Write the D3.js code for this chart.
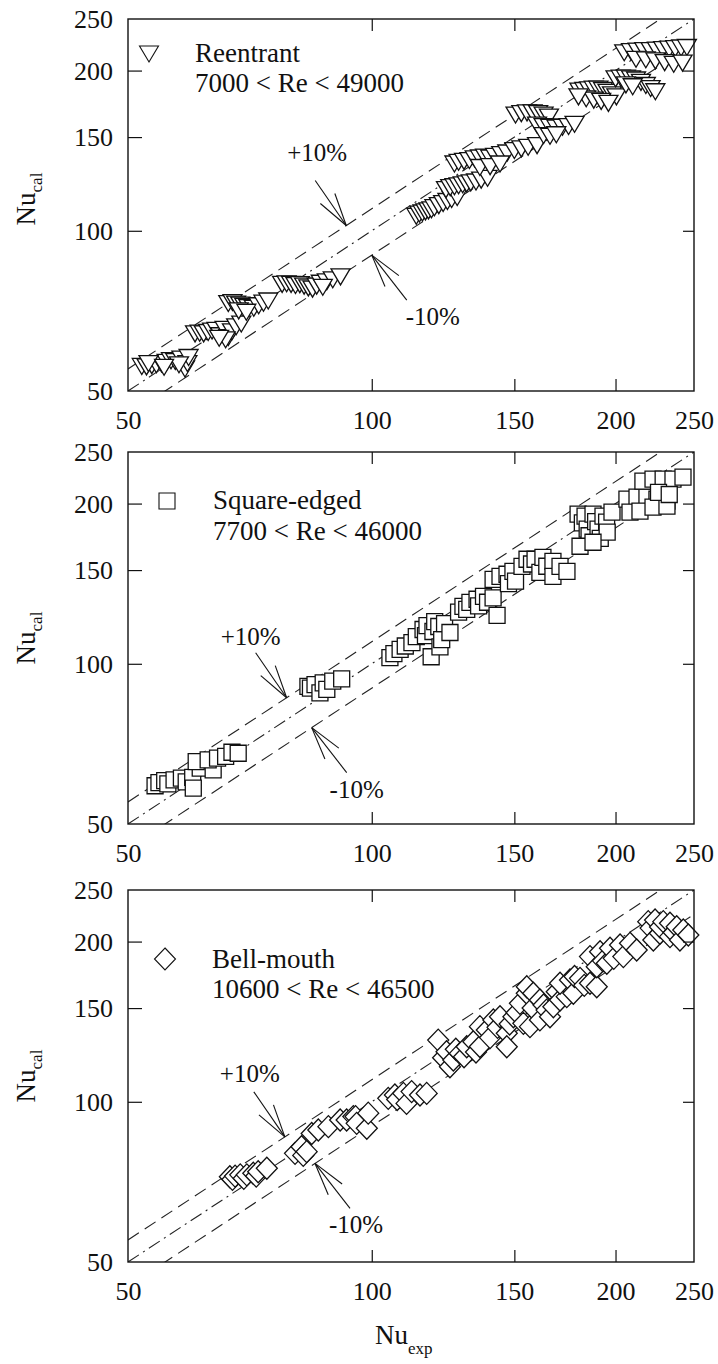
<!DOCTYPE html>
<html>
<head>
<meta charset="utf-8">
<script src="https://cdn.jsdelivr.net/npm/d3@7"></script>
<style>
  body { margin: 0; background: #fff; }
  svg text { font-family: "Liberation Serif", "Times New Roman", serif; fill: #111; }
</style>
</head>
<body>
<svg id="chart" width="718" height="1364"></svg>
<script>
// axis ticks
const tickLabels = [50, 100, 150, 200, 250];
const innerTicks = [100, 150, 200];

// Nu_exp, Nu_cal pairs
const reentrant = [
	[52.0,55.6],[52.7,55.5],[53.5,55.8],[54.2,56.0],[55.0,56.2],[55.8,56.6],[56.5,57.0],[57.2,56.8],
	[58.2,57.4],[58.8,55.0],[59.2,56.3],[59.4,57.8],[57.8,56.0],[53.0,56.3],[55.4,55.4],
	[60.5,64.0],[61.3,64.2],[62.0,64.0],[62.8,64.4],[63.5,64.8],[64.3,65.0],[65.0,63.5],[65.8,65.3],
	[66.5,63.0],[67.2,64.6],[68.0,66.0],[69.0,66.8],[66.0,62.4],[64.8,62.8],
	[66.5,73.0],[67.3,73.3],[68.0,72.8],[68.8,72.5],[69.6,72.1],[70.4,71.7],[71.5,71.5],[72.5,72.3],
	[73.5,73.1],[74.5,73.8],[68.5,70.7],[70.0,70.3],
	[77.5,79.3],[78.5,79.5],[79.5,79.3],[80.5,78.9],[81.5,79.2],[82.5,78.7],[83.5,78.1],[84.5,77.7],
	[85.5,78.7],[86.5,79.7],[88.0,80.2],[89.5,80.9],[91.5,81.9],[87.0,78.3],
	[113.5,106.5],[114.5,107.5],[115.5,108.0],[116.5,108.5],[117.5,109.0],[118.5,109.5],[119.5,110.5],
	[121.0,111.5],[122.5,112.5],[124.0,113.5],[125.5,114.5],[127.5,115.5],
	[123.5,119.5],[125.0,120.5],[126.5,121.0],[128.0,121.5],[129.5,122.0],[131.0,122.5],[132.5,123.0],
	[134.5,123.5],[136.5,124.5],[139.0,125.5],
	[126.5,133.5],[128.0,134.5],[130.0,135.0],[132.0,135.5],[134.0,136.5],[136.0,137.0],[138.0,137.5],
	[140.0,137.0],[142.0,138.0],[144.5,139.0],[147.0,140.0],[150.0,141.5],[153.0,142.5],[156.0,143.5],
	[160.0,144.5],[136.0,131.5],[140.0,132.0],[144.0,133.5],
	[150.5,165.0],[153.0,166.0],[155.5,166.5],[158.0,166.5],[160.5,166.0],[163.0,165.0],[165.5,163.5],
	[160.0,158.0],[163.0,157.0],[166.0,156.5],[169.0,156.0],[172.0,156.5],[175.0,157.0],[178.0,158.5],
	[163.0,151.0],[166.0,150.5],[169.0,151.5],
	[180.5,183.0],[183.0,183.5],[185.5,184.0],[188.0,184.5],[190.5,184.5],[193.0,183.5],[195.5,182.0],
	[198.0,180.0],[200.5,178.5],[184.0,177.0],[188.0,176.0],[192.0,175.0],[196.0,173.5],[180.0,178.5],
	[200.0,193.0],[203.0,193.5],[206.0,193.5],[209.0,193.0],[212.0,192.0],[215.0,190.0],[218.0,187.5],
	[221.0,185.0],[224.0,182.5],[206.0,188.0],[210.0,186.5],
	[205.0,216.0],[209.0,217.0],[213.0,217.5],[217.0,218.0],[221.0,218.0],[225.0,218.5],[229.0,219.0],
	[233.0,219.5],[237.0,220.0],[241.0,220.5],[245.0,221.0],[212.0,210.0],[218.0,209.5],[224.0,208.5],
	[230.0,207.0],[236.0,205.5],[242.0,206.5]
];

const squareEdged = [
	[54.0,59.0],[54.6,59.8],[55.5,60.3],[56.0,59.5],[57.0,60.5],[58.2,61.0],[59.0,60.0],[60.1,61.2],
	[60.2,58.4],[61.4,63.7],[63.7,63.2],[60.7,65.5],[62.8,66.0],[64.5,66.5],[66.0,67.0],[67.2,68.2],[68.4,67.9],
	[83.4,90.7],[84.0,90.0],[85.1,91.4],[86.3,88.2],[87.1,92.1],[88.0,89.5],[89.5,92.8],[91.8,93.7],
	[105.3,102.7],[106.5,104.5],[108.4,106.4],[110.0,108.0],[112.1,109.6],[113.5,112.5],[115.7,116.0],
	[116.5,113.0],[117.0,118.0],[118.4,103.1],[119.0,115.0],[119.6,120.0],[121.0,117.5],[121.4,107.6],
	[122.0,111.0],[123.0,119.0],[124.9,114.5],
	[128.0,125.0],[129.6,128.2],[131.0,126.5],[132.2,130.4],[134.9,132.2],[135.5,128.5],[137.4,133.9],
	[139.0,130.5],[141.2,133.0],[142.8,123.3],
	[141.2,144.1],[144.0,146.0],[146.9,147.3],[147.5,141.5],[149.4,149.2],[150.5,143.0],[153.3,152.4],
	[155.5,157.2],[157.5,154.0],[159.1,157.2],[161.3,148.5],[162.7,158.5],[164.5,152.5],[167.4,155.8],
	[167.4,146.0],[170.8,152.4],[174.2,149.2],
	[179.8,191.0],[182.0,184.0],[183.4,189.4],[184.5,179.0],[185.5,174.0],[187.6,191.0],[189.0,185.0],
	[190.3,179.0],[191.5,172.0],[193.0,189.4],[195.0,184.5],[195.3,176.7],[198.0,192.7],[180.8,166.3],
	[187.6,169.2],
	[206.6,203.9],[212.6,205.7],[218.7,205.7],[225.0,203.9],[231.5,202.1],[208.4,192.7],[214.4,193.6],
	[222.5,197.0],[231.5,197.8],
	[216.2,220.4],[222.5,222.4],[229.0,222.4],[235.5,222.4],[242.3,224.3],[226.0,210.0],[233.0,208.0]
];

const bellMouth = [
	[66.8,72.3],[67.3,71.5],[67.8,72.5],[68.8,72.9],[69.5,71.8],[70.1,72.9],[71.4,73.4],[72.0,72.5],
	[72.4,73.9],[74.2,75.0],
	[80.4,80.0],[81.9,82.3],[82.3,79.3],[83.1,80.6],[84.3,87.2],[85.9,88.5],[88.4,89.8],[91.4,92.4],
	[93.1,92.4],[94.9,93.8],[95.5,93.8],[95.8,91.1],[98.6,89.2],[99.0,95.2],
	[104.8,101.5],[106.8,103.0],[107.5,101.0],[109.4,103.7],[110.4,99.3],[112.0,104.5],[114.7,103.0],
	[116.9,103.7],
	[120.8,130.6],[122.5,121.0],[123.7,124.2],[124.9,116.4],[126.1,119.8],[127.0,125.5],[128.5,123.3],
	[130.0,121.5],[131.0,126.9],[133.5,129.7],[134.5,124.0],[136.0,127.0],
	[136.0,138.4],[138.7,136.4],[140.0,132.0],[141.3,142.5],[143.0,138.0],[144.0,144.5],[146.8,134.5],
	[146.8,126.9],[148.0,140.0],[149.6,144.5],[151.0,147.0],[152.4,153.1],[153.9,140.4],[155.4,159.9],
	[155.4,164.5],[156.8,138.4],[158.0,150.0],[158.3,159.9],[161.3,155.3],[161.3,142.5],[163.0,152.0],
	[164.4,148.7],[166.0,144.5],[167.6,150.9],[169.2,161.0],[170.8,155.3],[174.1,157.6],[175.7,164.5],
	[170.8,167.0],[175.7,169.4],[177.4,159.9],[178.0,172.0],[180.8,170.6],[183.0,165.5],[186.0,167.0],
	[189.6,164.5],
	[186.0,187.4],[189.6,179.4],[191.4,191.4],[193.0,184.0],[195.1,182.1],[196.9,194.3],[199.0,186.0],
	[202.6,197.1],[204.5,187.4],[208.4,198.5],[212.4,192.8],
	[219.5,218.0],[221.0,212.0],[222.7,201.4],[223.8,219.6],[226.9,207.3],[227.0,213.0],[229.1,218.0],
	[233.5,216.5],[233.5,204.3],[236.0,208.0],[238.0,213.3],[240.2,201.4],[242.5,210.3],[246.0,205.8]
];

const seriesNames = ["Reentrant", "Square-edged", "Bell-mouth"];
const reRanges = ["7000 < Re < 49000", "7700 < Re < 46000", "10600 < Re < 46500"];
const bandFactors = [1.1, 1.0, 0.9];
// Nu_exp where the +10% / -10% arrows point
const plusArrowAt = [93, 78.5, 78.1];
const minusArrowAt = [100, 84.3, 85.1];

/**
 * Layout
 */
const left = 128, right = 694, plotH = 372;
const panelTops = [19, 452, 890];
const fontFamily = '"Liberation Serif", "Times New Roman", serif';

const shapes = [
	"M-9.5,-8L9.5,-8L0,8Z",            // down triangle
	"M-8,-8H8V8H-8Z",                  // square
	"M0,-11L10.5,0L0,11L-10.5,0Z"      // diamond
];
const legendLayout = [
	{ mx: 149, my: 54, tx: 195, t1: 62, t2: 92 },
	{ mx: 167, my: 501, tx: 213, t1: 509, t2: 540 },
	{ mx: 165, my: 959, tx: 212, t1: 968, t2: 998 }
];
const labelShift = [-6, 0, 0];
const plusText = [{ dx: -29, dy: -65 }, { dx: -36, dy: -53 }, { dx: -35, dy: -55 }];
const minusText = [{ dx: 61, dy: 70 }, { dx: 45, dy: 70 }, { dx: 41, dy: 70 }];

const svg = d3.select("#chart");
const x = d3.scaleLog().domain([50, 250]).range([left, right]);

const allData = [reentrant, squareEdged, bellMouth];

function arrow(g, tip, vx, vy) {
	let ang = Math.atan2(vy, vx);
	let barb = 34, spread = 15 * Math.PI / 180;
	let lines = [[vx, vy],
		[barb * Math.cos(ang + spread), barb * Math.sin(ang + spread)],
		[barb * Math.cos(ang - spread), barb * Math.sin(ang - spread)]];
	g.selectAll(null)
		.data(lines)
		.enter()
		.append("line")
		.attr("x1", tip[0]).attr("y1", tip[1])
		.attr("x2", d => tip[0] + d[0]).attr("y2", d => tip[1] + d[1])
		.attr("stroke", "#111")
		.attr("stroke-width", 1.1);
}

allData.forEach(function(data, i) {
	let top = panelTops[i];
	let bottom = top + plotH;
	let y = d3.scaleLog().domain([50, 250]).range([bottom, top]);
	let g = svg.append("g").attr("class", "panel");

	g.append("clipPath").attr("id", "clip" + i)
		.append("rect")
		.attr("x", left).attr("y", top)
		.attr("width", right - left).attr("height", plotH);

	// +10%, y = x, -10% lines
	let lineGen = d3.line().x(d => x(d[0])).y(d => y(d[1]));
	g.append("g")
		.attr("clip-path", "url(#clip" + i + ")")
		.selectAll("path")
		.data(bandFactors)
		.enter()
		.append("path")
		.attr("d", f => lineGen([[50, 50 * f], [250, 250 * f]]))
		.attr("fill", "none")
		.attr("stroke", "#222")
		.attr("stroke-width", 1.1)
		.attr("stroke-dasharray", f => f === 1 ? "13,5,2,5" : "13,7");

	// markers
	g.append("g")
		.selectAll("path")
		.data(data)
		.enter()
		.append("path")
		.attr("transform", d => "translate(" + x(d[0]) + "," + y(d[1]) + ")")
		.attr("d", shapes[i])
		.attr("fill", "#fff")
		.attr("stroke", "#111")
		.attr("stroke-width", 1.3);

	// frame
	g.append("rect")
		.attr("x", left).attr("y", top)
		.attr("width", right - left).attr("height", plotH)
		.attr("fill", "none")
		.attr("stroke", "#111")
		.attr("stroke-width", 1.4);

	// inward ticks on all four sides
	let tickAxes = [
		[d3.axisBottom(x).tickSize(-12), "translate(0," + bottom + ")"],
		[d3.axisTop(x).tickSize(-12), "translate(0," + top + ")"],
		[d3.axisLeft(y).tickSize(-14), "translate(" + left + ",0)"],
		[d3.axisRight(y).tickSize(-11), "translate(" + right + ",0)"]
	];
	tickAxes.forEach(function(a) {
		let ax = g.append("g")
			.attr("transform", a[1])
			.call(a[0].tickValues(innerTicks).tickFormat(""));
		ax.select(".domain").remove();
		ax.selectAll("line").attr("stroke", "#111").attr("stroke-width", 1.2);
	});

	// tick labels
	let xLab = g.append("g")
		.attr("transform", "translate(0," + bottom + ")")
		.call(d3.axisBottom(x).tickValues(tickLabels).tickFormat(d3.format("d")).tickSize(0).tickPadding(20));
	let yLab = g.append("g")
		.attr("transform", "translate(" + left + ",0)")
		.call(d3.axisLeft(y).tickValues(tickLabels).tickFormat(d3.format("d")).tickSize(0).tickPadding(15));
	[xLab, yLab].forEach(function(ax) {
		ax.select(".domain").remove();
		ax.attr("font-size", 26).attr("font-family", fontFamily);
		ax.selectAll("text").attr("fill", "#111");
	});
	yLab.selectAll("text").attr("dy", "0.34em");

	// y label
	let yl = g.append("text")
		.attr("transform", "translate(35," + ((top + bottom) / 2 + labelShift[i]) + ") rotate(-90)")
		.attr("text-anchor", "middle")
		.attr("font-size", 27);
	yl.append("tspan").text("Nu");
	yl.append("tspan").attr("font-size", 17).attr("dy", 7).text("cal");

	// legend
	let lg = legendLayout[i];
	g.append("path")
		.attr("transform", "translate(" + lg.mx + "," + lg.my + ")")
		.attr("d", shapes[i])
		.attr("fill", "#fff")
		.attr("stroke", "#111")
		.attr("stroke-width", 1.1);
	g.append("text").attr("x", lg.tx).attr("y", lg.t1).attr("font-size", 27).text(seriesNames[i]);
	g.append("text").attr("x", lg.tx).attr("y", lg.t2).attr("font-size", 27).text(reRanges[i]);

	// arrows
	let pTip = [x(plusArrowAt[i]), y(plusArrowAt[i] * 1.1)];
	arrow(g, pTip, -31, -45);
	g.append("text")
		.attr("x", pTip[0] + plusText[i].dx).attr("y", pTip[1] + plusText[i].dy)
		.attr("text-anchor", "middle").attr("font-size", 25).text("+10%");

	let mTip = [x(minusArrowAt[i]), y(minusArrowAt[i] * 0.9)];
	arrow(g, mTip, 35, 45);
	g.append("text")
		.attr("x", mTip[0] + minusText[i].dx).attr("y", mTip[1] + minusText[i].dy)
		.attr("text-anchor", "middle").attr("font-size", 25).text("-10%");
});

// x label
let xl = svg.append("text")
	.attr("x", 375).attr("y", 1344)
	.attr("font-size", 27);
xl.append("tspan").text("Nu");
xl.append("tspan").attr("font-size", 17).attr("dy", 10).text("exp");
</script>
</body>
</html>
